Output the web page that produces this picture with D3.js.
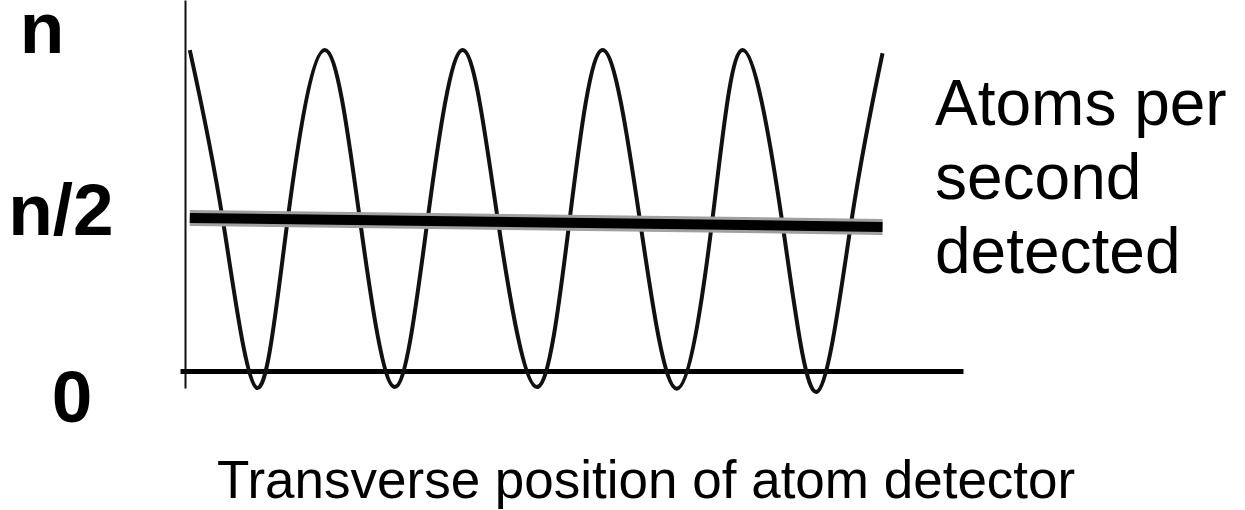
<!DOCTYPE html>
<html>
<head>
<meta charset="utf-8">
<script src="https://cdn.jsdelivr.net/npm/d3@7"></script>
<style>
  body { margin: 0; background: #fff; }
  text { font-family: "Liberation Sans", Arial, sans-serif; fill: #000; }
</style>
</head>
<body>
<script>
  var width = 1245;
  var height = 510;

  // wave: peaks, crossings of n/2 and troughs
  var waveX = [0, 0.47, 0.96, 1.40, 1.93, 2.43, 2.93, 3.40, 3.90, 4.40, 4.96,
               5.43, 5.90, 6.43, 6.96, 7.47, 7.90, 8.46, 8.96, 9.46, 9.90];
  var waveY = [1.0, 0.474, -0.053, 0.474, 1.0, 0.474, -0.05, 0.474, 1.0, 0.474, -0.05,
               0.474, 1.0, 0.474, -0.055, 0.474, 1.0, 0.474, -0.065, 0.474, 0.99];

  // thick average line (n/2)
  var meanX = [0, 9.9];
  var meanY = [0.477, 0.449];

  var tickLabels = ["n", "n/2", "0"];
  var rightLabel = ["Atoms per", "second", "detected"];
  var xTitle = "Transverse position of atom detector";

  var svg = d3.select("body").append("svg")
    .attr("width", width)
    .attr("height", height);

  // scales
  var xScale = d3.scaleLinear()
    .domain([-0.14, 11.05])
    .range([180, 963]);

  var yScale = d3.scaleLinear()
    .domain([-0.053, 1.156])
    .range([388, 0]);

  var wave = waveX.map(function(x, i){ return [x, waveY[i]]; });
  var mean = meanX.map(function(x, i){ return [x, meanY[i]]; });

  var line = d3.line()
    .x(function(d){ return xScale(d[0]); })
    .y(function(d){ return yScale(d[1]); });

  // y axis (just the line)
  var yAxis = svg.append("g")
    .attr("transform", "translate(" + 185 + ",0)")
    .call(d3.axisLeft(yScale).tickValues([]).tickSizeOuter(0));
  yAxis.select(".domain").attr("stroke", "#111").attr("stroke-width", 2);

  // x axis at zero
  var xAxis = svg.append("g")
    .attr("transform", "translate(0," + yScale(0) + ")")
    .call(d3.axisBottom(xScale).tickValues([]).tickSizeOuter(0));
  xAxis.select(".domain").attr("stroke", "#000").attr("stroke-width", 5);

  // sine-like wave
  svg.append("path")
    .datum(wave)
    .attr("fill", "none")
    .attr("stroke", "#111")
    .attr("stroke-width", 4)
    .attr("d", line.curve(d3.curveNatural));

  // mean line with grey halo
  line.curve(d3.curveLinear);
  svg.append("path")
    .datum(mean)
    .attr("fill", "none")
    .attr("stroke", "#a0a0a0")
    .attr("stroke-width", 16)
    .attr("d", line);
  svg.append("path")
    .datum(mean)
    .attr("fill", "none")
    .attr("stroke", "#000")
    .attr("stroke-width", 10)
    .attr("d", line);

  // y tick labels
  var tickPos = [[42, 53], [61, 235], [72, 422]];
  svg.selectAll("text.tick")
    .data(tickLabels)
    .enter()
    .append("text")
    .attr("class", "tick")
    .attr("x", function(d, i){ return tickPos[i][0]; })
    .attr("y", function(d, i){ return tickPos[i][1]; })
    .attr("text-anchor", "middle")
    .attr("font-size", 73)
    .attr("font-weight", "bold")
    .text(function(d){ return d; });

  // right side label
  svg.selectAll("text.ylab")
    .data(rightLabel)
    .enter()
    .append("text")
    .attr("class", "ylab")
    .attr("x", 935)
    .attr("y", function(d, i){ return 125 + i * 74; })
    .attr("font-size", 64)
    .text(function(d){ return d; });

  // x title
  svg.append("text")
    .attr("x", 217)
    .attr("y", 498)
    .attr("font-size", 53)
    .text(xTitle);
</script>
</body>
</html>
